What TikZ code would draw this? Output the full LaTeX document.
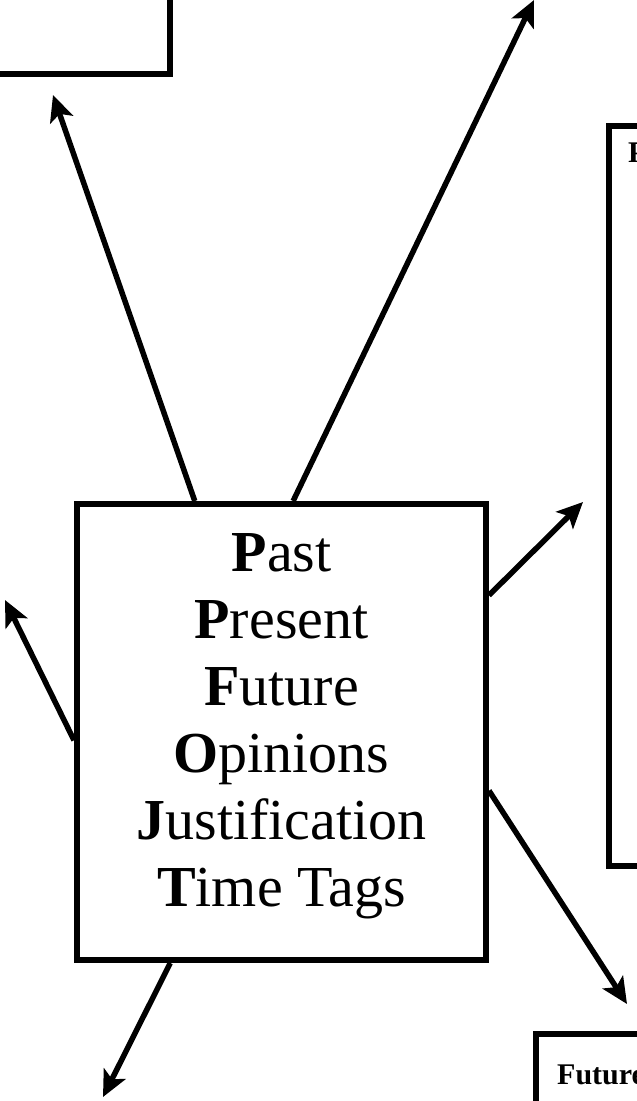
\documentclass[tikz,border=0pt]{standalone}
\usepackage{fontspec}
\setmainfont{Liberation Serif}
\usetikzlibrary{arrows.meta,calc}
\begin{document}
\begin{tikzpicture}[x=1pt,y=-1pt,
  box/.style={draw, line width=6pt, inner sep=0pt},
  arr/.style={line width=5.5pt, -{Stealth[length=26pt,width=24pt,inset=6pt]}},
  lbl/.style={font=\bfseries\fontsize{30}{36}\selectfont, inner sep=0pt, anchor=base west}]
\useasboundingbox (0,0) rectangle (637,1101);
\clip (0,0) rectangle (637,1101);
% main box
\node[box, minimum width=409pt, minimum height=456pt] (m) at (281.5,732) {};
\node[inner sep=0pt, align=center, font=\fontsize{58}{67}\selectfont] (t) at (281.5,726)
  {\textbf{P}ast\\ \textbf{P}resent\\ \textbf{F}uture\\ \textbf{O}pinions\\ \textbf{J}ustification\\ \textbf{T}ime Tags};
% surrounding boxes (partly outside the picture)
\node[box, anchor=north east, minimum width=260pt, minimum height=120pt] (b1) at (173,-49) {};
\node[box, anchor=north west, minimum width=100pt, minimum height=740pt] (b2) at (606,123) {};
\node[box, anchor=north west, minimum width=150pt, minimum height=120pt] (b3) at (533,1031) {};
\node[lbl] (b2t) at (628,162) {P};
\node[lbl] (b3t) at (557,1084) {Future};
% arrow ends
\coordinate (e1) at (53,95);
\coordinate (e2) at (534,0);
\coordinate (e3) at (583,502);
\coordinate (e4) at (5,600);
\coordinate (e5) at (627,1004);
\coordinate (e6) at (103,1097);
% arrows
\draw[arr] ($(m.north west)!0.291!(m.north east)$) -- (e1);
\draw[arr] ($(m.north west)!0.528!(m.north east)$) -- (e2);
\draw[arr] ($(m.north east)!0.204!(m.south east)$) -- (e3);
\draw[arr] ($(m.north west)!0.518!(m.south west)$) -- (e4);
\draw[arr] ($(m.north east)!0.627!(m.south east)$) -- (e5);
\draw[arr] ($(m.south west)!0.232!(m.south east)$) -- (e6);
\end{tikzpicture}
\end{document}
